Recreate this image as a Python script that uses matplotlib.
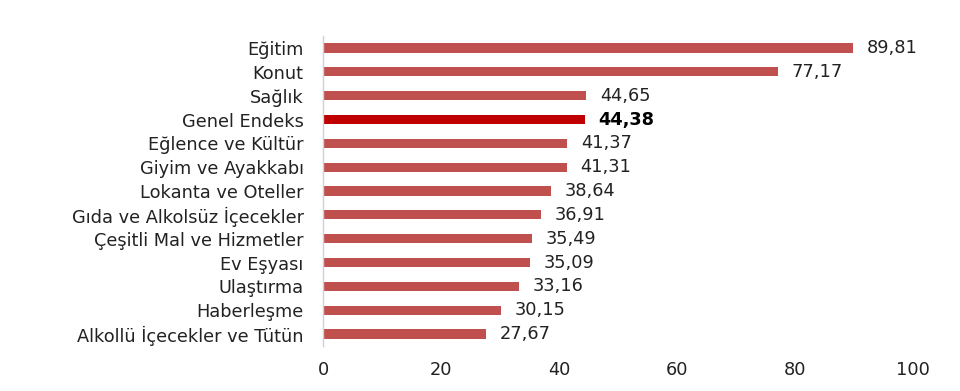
import matplotlib.pyplot as plt

plt.rcParams['font.family'] = ['DejaVu Sans']

categories = ['Eğitim', 'Konut', 'Sağlık', 'Genel Endeks', 'Eğlence ve Kültür',
              'Giyim ve Ayakkabı', 'Lokanta ve Oteller', 'Gıda ve Alkolsüz İçecekler',
              'Çeşitli Mal ve Hizmetler', 'Ev Eşyası', 'Ulaştırma', 'Haberleşme',
              'Alkollü İçecekler ve Tütün']
values = [89.81, 77.17, 44.65, 44.38, 41.37, 41.31, 38.64, 36.91, 35.49, 35.09,
          33.16, 30.15, 27.67]
highlight = 'Genel Endeks'

colors = ['#c00000' if c == highlight else '#c0504d' for c in categories]

fig = plt.figure(figsize=(9.6, 3.91), dpi=100)
ax = fig.add_axes([0.3365, 0.1153, 0.6146, 0.7924])
y = range(len(categories))
ax.barh(y, values, height=0.38, color=colors)
ax.set_ylim(len(categories) - 0.5, -0.5)
ax.set_xlim(0, 100)
ax.set_yticks(list(y))
ax.set_yticklabels(categories, fontsize=12.8, color='#222222')
ax.set_xticks([0, 20, 40, 60, 80, 100])
ax.tick_params(axis='x', labelsize=12.8, colors='#222222', length=0, pad=11)
ax.tick_params(axis='y', length=0, pad=14)

for s in ['top', 'right', 'bottom']:
    ax.spines[s].set_visible(False)
ax.spines['left'].set_color('#d0d0d0')
ax.spines['left'].set_linewidth(1)

for i, (c, v) in enumerate(zip(categories, values)):
    lbl = f'{v:.2f}'.replace('.', ',')
    ax.text(v + 2.3, i, lbl, va='center', ha='left', fontsize=12.8,
            color='#222222' if c != highlight else '#000000',
            fontweight='bold' if c == highlight else 'normal')

fig.savefig('out.png', dpi=100, facecolor='white')
